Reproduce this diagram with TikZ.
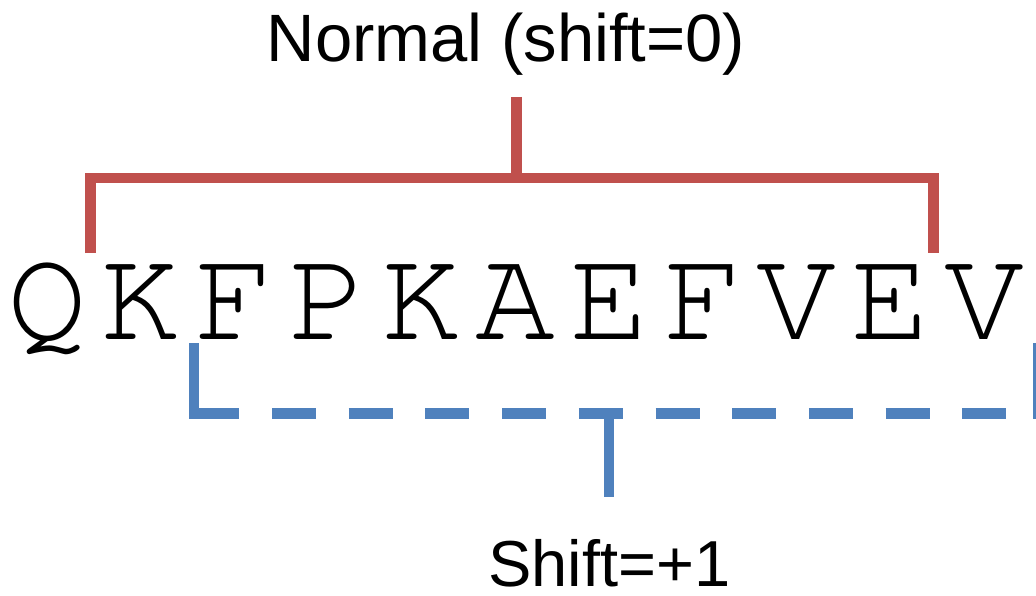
\documentclass[tikz,border=0pt]{standalone}
\usepackage{fontspec}
\newfontfamily\lettfont{texgyrecursor-regular.otf}
\newfontfamily\labfont{Liberation Sans}
\definecolor{bred}{HTML}{C0504D}
\definecolor{bblue}{HTML}{4F81BD}
\begin{document}
\begin{tikzpicture}[x=1pt,y=-1pt,
  letter/.style={anchor=base,inner sep=0pt,font=\lettfont\fontsize{133}{133}\selectfont},
  label/.style={anchor=base,inner sep=0pt,text depth=0pt,font=\labfont\fontsize{67}{67}\selectfont},
  redbr/.style={draw=bred,line width=10.5pt,miter limit=10},
  bluebr/.style={draw=bblue,line width=10.5pt,miter limit=10},
  bluedash/.style={draw=bblue,line width=10.5pt,dash pattern=on 44pt off 32.7pt}]
\useasboundingbox (0,0) rectangle (1036,596);
% letters
\foreach \c [count=\i from 0] in {Q,K,F,P,K,A,E,F,V,E,V}{
  \node[letter] (l\i) at ({47+93.7*\i},339) {\c};
}
% labels
\node[label] (normal) at (506,62) {Normal (shift=0)};
\node[label,font=\labfont\fontsize{65}{65}\selectfont] (shift) at (609.5,586) {Shift=+1};
% red bracket
\coordinate (rstemtop) at (516.5,97);
\coordinate (rmid) at (516.5,178);
\coordinate (rl) at (90.5,253);
\coordinate (rlc) at (90.5,178);
\coordinate (rr) at (933.5,253);
\coordinate (rrc) at (933.5,178);
\draw[redbr] (rl) -- (rlc) -- (rrc) -- (rr);
\draw[redbr] (rstemtop) -- (rmid);
% blue bracket
\coordinate (bl) at (194,343);
\coordinate (blc) at (194,413.7);
\coordinate (blc2) at (199,413.7);
\coordinate (bdashstart) at (195.3,413.7);
\coordinate (bdashend) at (1038,413.7);
\coordinate (brc2) at (1033,413.7);
\coordinate (brc) at (1038.5,413.7);
\coordinate (br) at (1038.5,343);
\coordinate (bmid) at (609,413.7);
\coordinate (bstembot) at (609,497);
\draw[bluebr] (bl) -- (blc) -- (blc2);
\draw[bluedash] (bdashstart) -- (bdashend);
\draw[bluebr] (brc2) -- (brc) -- (br);
\draw[bluebr] (bmid) -- (bstembot);
\end{tikzpicture}
\end{document}
